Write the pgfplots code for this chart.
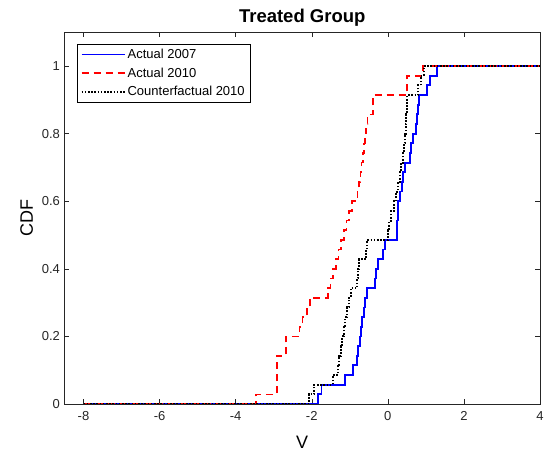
\documentclass[border=0pt]{standalone}
\usepackage{fontspec}
\setmainfont{Liberation Sans}
\usepackage{pgfplots}
\pgfplotsset{compat=1.18}
\usetikzlibrary{calc}
\definecolor{axgray}{HTML}{262626}

\begin{document}
\begin{tikzpicture}
\begin{axis}[
  scale only axis, width=475.5pt, height=371.7pt,
  xmin=-8.5, xmax=4, ymin=0, ymax=1.1,
  xtick={-8,-6,-4,-2,0,2,4},
  ytick={0,0.2,0.4,0.6,0.8,1},
  tick align=inside, major tick length=5pt,
  axis line style={draw=axgray, line width=0.6pt},
  tick style={draw=axgray, line width=0.5pt},
  ticklabel style={font=\fontsize{13}{15}\selectfont, text=axgray},
  xticklabel style={yshift=-4pt},
  yticklabel style={xshift=-1pt},
  /pgf/number format/assume math mode=true,
  title={\bfseries Treated Group},
  title style={font=\fontsize{18.5}{20}\selectfont, yshift=-4pt},
  xlabel={V}, ylabel={CDF},
  label style={font=\fontsize{18}{20}\selectfont},
  xlabel style={yshift=-9pt},
  ylabel style={yshift=2pt},
  legend style={at={(0.026,0.968)}, anchor=north west, draw=black, line width=0.5pt,
                font=\fontsize{13}{15}\selectfont, inner xsep=3.5pt, inner ysep=2.5pt,
                row sep=3.8pt},
  legend cell align=left,
  legend image code/.code={\draw[#1] (0pt,0pt) -- (43pt,0pt);},
  const plot,
]
% Actual 2007
\addplot[draw=blue, line width=1.8pt] coordinates {
(-8,0) (-1.834,0.0286) (-1.745,0.0571) (-1.132,0.0857) (-0.921,0.1143)
(-0.803,0.1429) (-0.776,0.1714) (-0.737,0.2) (-0.711,0.2286) (-0.671,0.2571)
(-0.632,0.2857) (-0.592,0.3143) (-0.553,0.3429) (-0.342,0.3714) (-0.303,0.4)
(-0.263,0.4286) (-0.132,0.4571) (-0.079,0.4857) (0.237,0.5143) (0.250,0.5429)
(0.263,0.5714) (0.276,0.6) (0.316,0.6286) (0.368,0.6571) (0.408,0.6857)
(0.447,0.7143) (0.592,0.7429) (0.618,0.7714) (0.658,0.8) (0.750,0.8286)
(0.776,0.8571) (0.803,0.8857) (0.829,0.9143) (1.026,0.9429) (1.105,0.9714)
(1.289,1) (4,1)};
\addlegendentry{Actual 2007}
% Actual 2010
\addplot[draw=red, line width=1.6pt, dash pattern=on 7pt off 5pt] coordinates {
(-8,0) (-3.47,0.0286) (-2.92,0.1429) (-2.68,0.2) (-2.32,0.2286) (-2.24,0.2571)
(-2.13,0.2857) (-2.05,0.3143) (-1.58,0.3429) (-1.51,0.3714) (-1.44,0.4)
(-1.37,0.4286) (-1.30,0.4571) (-1.23,0.4857) (-1.16,0.5143) (-1.09,0.5429)
(-1.02,0.5714) (-0.95,0.6) (-0.80,0.6286) (-0.76,0.6571) (-0.72,0.6857)
(-0.69,0.7143) (-0.66,0.7429) (-0.62,0.7714) (-0.60,0.8) (-0.57,0.8286)
(-0.53,0.8571) (-0.395,0.9143) (0.50,0.9714) (0.92,1) (4,1)};
\addlegendentry{Actual 2010}
% Counterfactual 2010
\addplot[draw=black, line width=2pt, dash pattern=on 1.6pt off 1.6pt] coordinates {
(-8,0) (-2.079,0.0286) (-1.934,0.0571) (-1.447,0.0857) (-1.316,0.1143)
(-1.276,0.1429) (-1.237,0.1714) (-1.197,0.2) (-1.158,0.2286) (-1.118,0.2571)
(-1.079,0.2857) (-1.026,0.3143) (-0.974,0.3429) (-0.803,0.3714) (-0.776,0.4)
(-0.750,0.4286) (-0.566,0.4571) (-0.539,0.4857) (0.000,0.5143) (0.039,0.5429)
(0.079,0.5714) (0.158,0.6) (0.211,0.6286) (0.263,0.6571) (0.316,0.6857)
(0.342,0.7143) (0.408,0.7429) (0.434,0.7714) (0.461,0.8) (0.474,0.8286)
(0.487,0.8571) (0.500,0.8857) (0.513,0.9143) (0.803,0.9429) (0.868,0.9714)
(0.947,1) (4,1)};
\addlegendentry{Counterfactual 2010}
\end{axis}
\pgfresetboundingbox
\path[use as bounding box] ($(current axis.south west)+(-64.5pt,-54pt)$)
  rectangle ($(current axis.north east)+(4pt,32.3pt)$);
\end{tikzpicture}
\end{document}
